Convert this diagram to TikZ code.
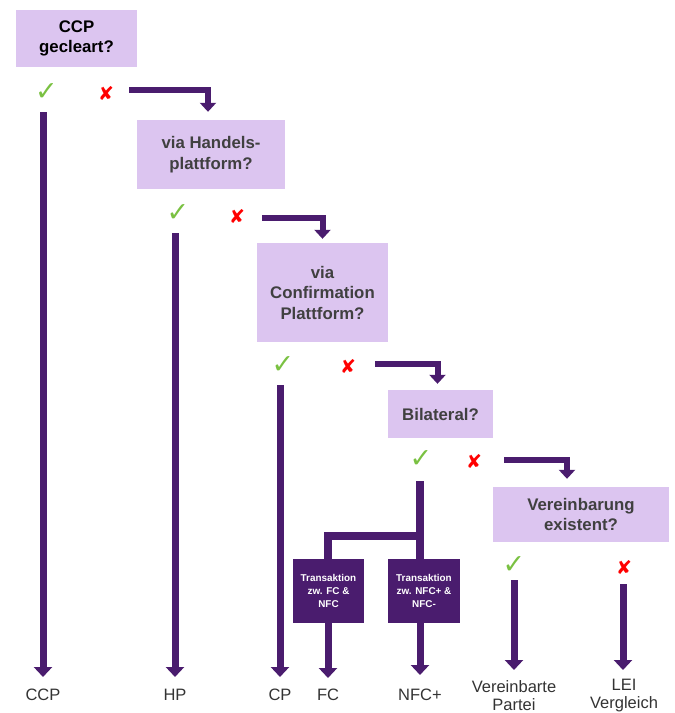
\documentclass[tikz,border=0pt]{standalone}
\usepackage{fontspec}
\setmainfont{Liberation Sans}
\newfontfamily\symfont{DejaVu Sans}
\usetikzlibrary{arrows.meta,backgrounds}
\definecolor{qfill}{RGB}{220,197,240}
\definecolor{qtext}{RGB}{64,64,64}
\definecolor{dpurp}{RGB}{74,28,110}
\definecolor{okgreen}{RGB}{122,193,66}
\definecolor{nored}{RGB}{255,0,0}
\tikzset{
  qbox/.style={fill=qfill, text=qtext, font=\bfseries\fontsize{16.8}{20.5}\selectfont, align=center, inner sep=0pt},
  dbox/.style={fill=dpurp, text=white, font=\bfseries\fontsize{9.9}{13}\selectfont, align=center, inner sep=0pt},
  arr/.style={draw=dpurp, line width=7pt, -{Triangle[width=18pt,length=10pt]}},
  barr/.style={draw=dpurp, line width=6pt, -{Triangle[width=16pt,length=9pt]}},
  branch/.style={draw=dpurp, line width=8pt},
  okmark/.style={text=okgreen, font=\symfont\fontsize{27}{27}\selectfont, inner sep=0pt},
  nomark/.style={text=nored, font=\symfont\fontsize{19}{19}\selectfont, inner sep=0pt},
  endlabel/.style={font=\fontsize{16.5}{18}\selectfont, align=center, inner sep=0pt, text=black!80}
}
\begin{document}
\begin{tikzpicture}[x=1pt,y=-1pt]
\useasboundingbox (0,0) rectangle (675,713);

% question boxes
\node[qbox, text=black, minimum width=121pt, minimum height=57pt] (q1) at (76.5,38.5) {CCP\\gecleart?};
\node[qbox, minimum width=148pt, minimum height=69pt] (q2) at (211,154.5) {via Handels-\\plattform?};
\node[qbox, minimum width=131pt, minimum height=99pt] (q3) at (322.5,292.5) {via\\Confirmation\\Plattform?};
\node[qbox, minimum width=105pt, minimum height=48pt] (q4) at (440.5,414) {Bilateral?};
\node[qbox, minimum width=176pt, minimum height=55pt] (q5) at (581,514.5) {Vereinbarung\\existent?};

% check and cross marks
\node[okmark] (c1) at (46.5,92) {✓};
\node[nomark] (x1) at (106,93) {✘};
\node[okmark] (c2) at (178,213) {✓};
\node[nomark] (x2) at (237,216) {✘};
\node[okmark] (c3) at (283,365) {✓};
\node[nomark] (x3) at (348,366) {✘};
\node[okmark] (c4) at (421,459) {✓};
\node[nomark] (x4) at (474,461) {✘};
\node[okmark] (c5) at (514,565) {✓};
\node[nomark] (x5) at (624,567) {✘};

% bent arrows to next question
\coordinate (a1) at (129,90);
\coordinate (a2) at (262,218);
\coordinate (a3) at (375,364);
\coordinate (a4) at (504,460);
\draw[barr] (a1) -| ([xshift=-3pt,yshift=8pt]q2.north);
\draw[barr] (a2) -| ([yshift=4pt]q3.north);
\draw[barr] (a3) -| ([xshift=-3pt,yshift=6pt]q4.north);
\draw[barr] (a4) -| ([xshift=-14pt,yshift=8pt]q5.north);

% dark boxes
\node[dbox, minimum width=71pt, minimum height=64pt] (d1) at (328.5,591) {Transaktion\\zw. FC \&\\NFC};
\node[dbox, minimum width=72pt, minimum height=64pt] (d2) at (424,591) {Transaktion\\zw. NFC+ \&\\NFC-};

% end labels
\node[endlabel, anchor=base] (lccp) at (43,700) {CCP};
\node[endlabel, anchor=base] (lhp) at (175,700) {HP};
\node[endlabel, anchor=base] (lcp) at (280,700) {CP};
\node[endlabel, anchor=base] (lfc) at (328,700) {FC};
\node[endlabel, anchor=base] (lnfc) at (420,700) {NFC+};
\node[endlabel] (lver) at (514,696) {Vereinbarte\\Partei};
\node[endlabel] (llei) at (624,696) {LEI\\Vergleich};

% vertical arrow starts and tips
\coordinate (s1) at (43,112);   \coordinate (t1) at (43,677);
\coordinate (s2) at (175,233);  \coordinate (t2) at (175,677);
\coordinate (s3) at (280,385);  \coordinate (t3) at (280,677);
\coordinate (s4) at (420,481);  \coordinate (j4) at (420,536);
\coordinate (b4) at (420,560);
\coordinate (s5) at (420,623);  \coordinate (t5) at (420,675);
\coordinate (t6) at (328,678);
\coordinate (s7) at (514,580);  \coordinate (t7) at (514,670);
\coordinate (s8) at (623,584);  \coordinate (t8) at (623,670);

\draw[arr] (s1) -- (t1);
\draw[arr] (s2) -- (t2);
\draw[arr] (s3) -- (t3);
\begin{scope}[on background layer]
\draw[branch] (s4) -- (b4);
\draw[branch] (j4) -| ([xshift=-0.5pt,yshift=-1pt]d1.north);
\end{scope}
\draw[arr] (s5) -- (t5);
\draw[arr] ([xshift=-0.5pt]d1.south) -- (t6);
\draw[arr] (s7) -- (t7);
\draw[arr] (s8) -- (t8);
\end{tikzpicture}
\end{document}
